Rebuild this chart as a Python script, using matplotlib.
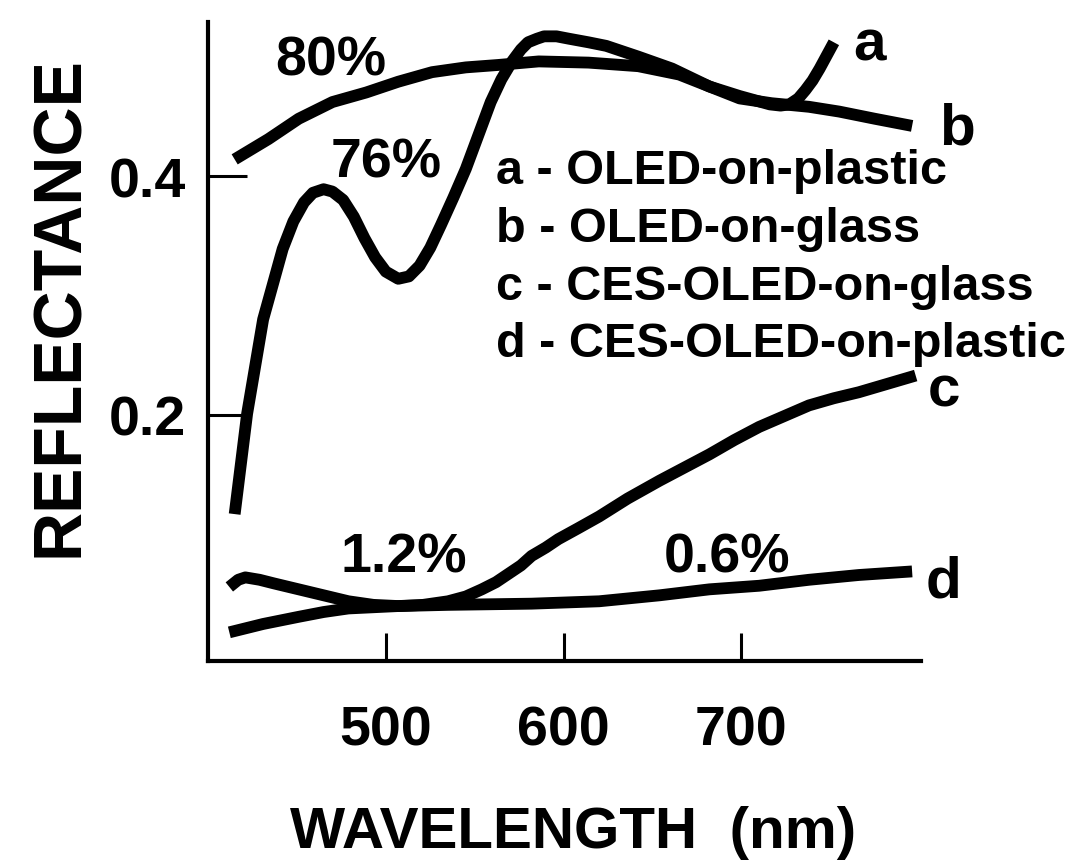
import matplotlib; matplotlib.use("Agg")
import matplotlib.pyplot as plt

plt.rcParams['font.family'] = ['Liberation Sans', 'DejaVu Sans']
plt.rcParams['font.weight'] = 'bold'

# ---- datos (longitud de onda nm, reflectancia) ----
wl_a = [415, 422, 431, 442, 448, 454, 459, 465, 470, 476, 482, 488, 494, 500, 507,
        513, 519, 525, 531, 538, 545, 552, 559, 565, 571, 576, 580, 585, 589, 596,
        603, 614, 624, 642, 661, 682, 699, 716, 722, 727, 732, 736, 740, 744, 748, 752]
r_a = [0.117, 0.201, 0.280, 0.339, 0.362, 0.378, 0.386, 0.389, 0.387, 0.380, 0.366,
       0.348, 0.332, 0.320, 0.314, 0.316, 0.325, 0.340, 0.359, 0.382, 0.406, 0.434,
       0.462, 0.481, 0.496, 0.506, 0.512, 0.515, 0.517, 0.517, 0.515, 0.512, 0.509,
       0.500, 0.490, 0.475, 0.467, 0.460, 0.459, 0.460, 0.465, 0.472, 0.480, 0.490,
       0.501, 0.512]

wl_b = [415, 434, 451, 470, 489, 507, 526, 545, 563, 586, 614, 642, 665, 682, 699,
        717, 738, 755, 775, 796]
r_b = [0.414, 0.431, 0.448, 0.462, 0.470, 0.479, 0.487, 0.491, 0.493, 0.496, 0.495,
       0.492, 0.485, 0.475, 0.465, 0.461, 0.458, 0.454, 0.448, 0.442]

wl_c = [412, 417, 421, 429, 437, 451, 465, 479, 493, 507, 521, 535, 545, 554, 562,
        569, 576, 582, 590, 597, 608, 620, 636, 654, 668, 682, 696, 710, 724, 738,
        752, 766, 782, 798]
r_c = [0.056, 0.062, 0.064, 0.062, 0.059, 0.054, 0.049, 0.044, 0.041, 0.040, 0.041,
       0.044, 0.048, 0.054, 0.060, 0.067, 0.074, 0.082, 0.089, 0.096, 0.105, 0.115,
       0.130, 0.145, 0.156, 0.167, 0.179, 0.190, 0.199, 0.208, 0.214, 0.219, 0.226,
       0.233]

wl_d = [412, 431, 451, 465, 479, 493, 507, 535, 582, 620, 654, 682, 710, 738, 766, 796]
r_d = [0.018, 0.025, 0.031, 0.035, 0.038, 0.039, 0.040, 0.041, 0.042, 0.044, 0.049,
       0.054, 0.057, 0.062, 0.066, 0.069]

x_ticks = [500, 600, 700]
y_ticks = [0.2, 0.4]
y_ticklabels = ["0.2", "0.4"]
leyenda = ["a - OLED-on-plastic", "b - OLED-on-glass",
           "c - CES-OLED-on-glass", "d - CES-OLED-on-plastic"]
letras = ["a", "b", "c", "d"]
porcentajes = ["80%", "76%", "1.2%", "0.6%"]

W, H = 1083, 862
fig = plt.figure(figsize=(W/100, H/100), dpi=100)
ax = fig.add_axes([208/W, 1-662/H, (921-208)/W, (662-23)/H])

for x, y in [(wl_a, r_a), (wl_b, r_b), (wl_c, r_c), (wl_d, r_d)]:
    ax.plot(x, y, color="black", lw=8.5, solid_capstyle="butt", solid_joinstyle="round")

ax.set_xlim(400, 801)
ax.set_ylim(-0.006, 0.529)
for s in ["top", "right"]:
    ax.spines[s].set_visible(False)
for s in ["left", "bottom"]:
    ax.spines[s].set_linewidth(3)
ax.set_xticks(x_ticks)
ax.set_xticklabels([str(v) for v in x_ticks], fontsize=40, fontweight="bold")
ax.set_yticks(y_ticks)
ax.set_yticklabels(y_ticklabels, fontsize=40, fontweight="bold")
ax.tick_params(axis="x", direction="in", length=20, width=2.2, pad=31)
ax.tick_params(axis="y", direction="in", length=28, width=2.2, pad=16)

# porcentajes
pos_pct = [(469, 0.485), (500, 0.400), (510, 0.0686), (692, 0.0686)]
for t, (x, y) in zip(porcentajes, pos_pct):
    ax.text(x, y, t, fontsize=40, fontweight="bold", ha="center", va="baseline")

# letras al final de las curvas
pos_let = [(772, 0.498), (821, 0.427), (814, 0.2075), (813.5, 0.0477)]
for t, (x, y) in zip(letras, pos_let):
    ax.text(x, y, t, fontsize=42, fontweight="bold", ha="center", va="baseline", clip_on=False)

# leyenda como texto
for t, y in zip(leyenda, [0.394, 0.346, 0.297, 0.249]):
    ax.text(561.7, y, t, fontsize=35, fontweight="bold", ha="left", va="baseline")

fig.text(573/W, 14/H, "WAVELENGTH  (nm)", fontsize=42, fontweight="bold",
         ha="center", va="baseline")
fig.text(78/W, 1-307/H, "REFLECTANCE", fontsize=49, fontweight="bold", rotation=90,
         rotation_mode="anchor", ha="center", va="baseline")

fig.savefig("out.png", dpi=100)
